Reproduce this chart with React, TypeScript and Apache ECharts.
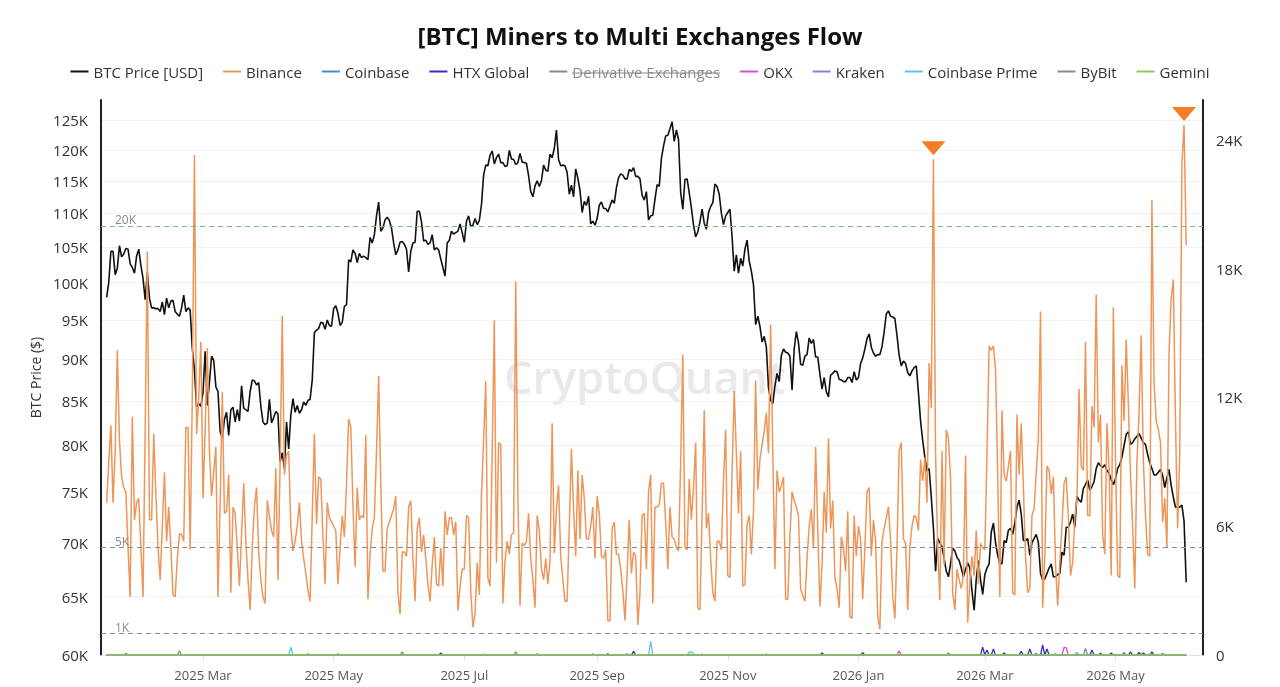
import { useEffect, useRef } from 'react';
import * as echarts from 'echarts';

// ---------- DATA ----------
// Daily series start on 2025-01-15 and end on 2026-06-03 (505 days)
const START_DATE = '2025-01-15';

// BTC price, thousands of USD
const btcPrice2025H1 = [
  98.0, 100.0, 104.4, 104.4, 101.1, 102.0, 105.2, 103.6, 104.0, 104.8, 104.7, 102.6, 102.1, 101.3, 103.7, 104.7, 102.4,
  100.6, 97.7, 101.4, 97.9, 96.6, 96.6, 96.5, 96.5, 96.1, 97.4, 95.7, 97.9, 96.6, 97.5, 97.6, 96.1, 95.8, 95.5, 96.6, 98.3, 96.1, 96.6, 96.3, 91.4, 88.7, 84.3, 84.7, 84.4,
  86.0, 91.0, 84.5, 87.2, 90.4, 89.9, 86.7, 86.1, 81.5, 80.8, 82.9, 83.7, 81.1, 84.0, 84.3, 82.6, 84.0, 82.7, 86.8, 84.2, 84.0, 83.8, 86.1, 87.5, 87.4, 86.9, 87.2, 84.4, 82.6, 82.3, 82.5,
  85.2, 82.5, 83.1, 83.8, 83.5, 78.2, 79.2, 77.5, 82.6, 79.6, 83.4, 85.3, 83.7, 84.5, 83.6, 84.0, 84.9, 84.5, 85.1, 85.2, 87.5, 93.4, 93.7, 93.9, 94.7, 94.6, 93.8, 95.0, 94.3, 94.2,
  96.5, 96.9, 95.9, 94.3, 94.7, 96.8, 97.0, 103.2, 102.9, 104.6, 104.1, 102.8, 104.1, 103.5, 103.7, 103.5, 103.2, 106.4, 105.6, 106.8, 109.6, 111.7, 107.3, 107.8, 109.0, 109.4, 108.9, 107.8, 105.6, 103.9, 104.6,
  105.7, 105.8, 105.4, 104.7, 101.5, 104.4, 105.6, 105.7, 110.3, 110.3, 108.7, 105.9, 106.0, 105.4, 105.6, 106.8, 104.6, 104.9, 104.6, 103.3, 102.1, 100.9, 105.6, 106.0, 107.3, 106.9, 107.1, 107.3, 108.4, 107.1,
];
const btcPrice2025H2 = [
  105.7, 108.8, 109.6, 108.0, 108.2, 109.2, 108.3, 108.9, 111.3, 115.9, 117.5, 117.4, 119.1, 119.8, 117.7, 118.7, 119.3, 117.9, 117.9, 117.3, 117.4, 119.9, 118.5, 118.4, 117.6, 117.9, 119.4, 118.0, 117.9, 117.8, 115.8,
  113.3, 112.5, 114.2, 115.0, 114.1, 115.0, 117.5, 116.7, 116.5, 119.3, 118.7, 120.2, 123.3, 118.4, 117.4, 117.5, 117.4, 116.3, 112.9, 114.3, 112.5, 116.9, 115.4, 113.5, 110.1, 111.8, 111.2, 112.6, 108.4, 108.8, 108.2,
  109.2, 111.2, 111.7, 110.7, 110.7, 110.2, 111.1, 112.0, 111.5, 113.9, 115.5, 116.1, 115.9, 115.3, 115.3, 116.8, 116.5, 117.1, 115.7, 115.7, 115.3, 112.7, 112.0, 113.3, 109.0, 109.6, 109.7, 112.1, 114.4, 114.1,
  118.6, 120.6, 122.3, 122.4, 123.5, 124.7, 121.4, 123.3, 121.7, 113.2, 110.6, 115.2, 115.3, 113.1, 110.8, 108.2, 106.5, 107.2, 108.7, 110.6, 108.5, 107.6, 110.1, 111.0, 111.6, 114.5, 114.1, 112.9, 110.0, 108.3, 109.6,
  110.1, 110.6, 106.5, 101.6, 103.9, 101.3, 103.4, 102.3, 104.7, 106.0, 103.0, 101.6, 99.7, 94.4, 95.5, 94.2, 92.2, 92.9, 91.5, 86.6, 85.1, 84.7, 86.8, 88.3, 87.3, 90.5, 91.3, 90.9, 90.8, 90.4,
  86.3, 91.3, 93.5, 92.1, 89.4, 89.3, 90.4, 90.6, 92.7, 92.0, 92.5, 90.3, 90.3, 88.2, 86.4, 87.8, 86.1, 85.5, 88.1, 88.3, 88.6, 88.5, 87.6, 87.5, 87.3, 87.3, 87.8, 87.8, 87.2, 88.5, 87.5,
];
const btcPrice2026 = [
  87.8, 89.5, 90.2, 91.3, 92.6, 93.2, 91.5, 90.8, 90.4, 90.6, 90.6, 91.6, 93.5, 95.8, 96.2, 95.5, 95.4, 95.2, 93.0, 90.5, 89.2, 89.8, 89.5, 88.4, 88.0, 88.6, 89.0, 89.2, 86.0, 82.7, 80.5,
  78.7, 77.2, 77.5, 74.5, 71.4, 67.3, 70.4, 70.0, 69.6, 68.5, 67.3, 66.8, 68.0, 69.5, 69.2, 68.6, 68.3, 67.6, 66.8, 67.5, 68.1, 67.6, 65.5, 63.8, 66.6, 68.3, 66.5, 65.2,
  67.0, 67.6, 68.0, 71.0, 71.9, 70.0, 68.8, 68.0, 68.0, 70.2, 70.0, 71.2, 71.4, 70.8, 71.9, 73.5, 74.2, 72.8, 70.2, 70.2, 70.4, 68.8, 70.0, 70.4, 70.8, 70.0, 67.1, 66.5, 66.6, 67.1, 67.6,
  68.0, 66.8, 66.8, 67.0, 67.1, 69.1, 68.8, 71.5, 71.5, 72.0, 72.8, 71.5, 74.6, 74.2, 74.0, 75.4, 75.8, 76.3, 75.2, 75.6, 76.1, 77.5, 78.1, 77.8, 77.6, 77.9, 77.3, 77.0, 76.3, 75.8,
  76.4, 77.5, 77.9, 78.7, 80.0, 81.2, 81.5, 80.1, 80.3, 80.7, 81.0, 81.3, 80.8, 80.3, 80.1, 79.0, 78.1, 77.5, 76.8, 76.8, 77.1, 77.4, 76.8, 75.5, 76.5, 77.4, 75.7, 74.5, 73.5, 73.5, 73.5,
  73.7, 72.1, 66.3,
];

// Miners -> Binance flow, thousands of BTC
const binance2025H1 = [
  7.1, 9.0, 10.7, 7.1, 9.5, 14.2, 10.0, 8.3, 7.8, 7.6,
  5.0, 2.7, 11.1, 6.3, 7.1, 7.3, 5.0, 2.7, 10.5, 18.8,
  6.3, 6.3, 10.3, 7.5, 5.0, 3.5, 6.0, 8.5, 5.3, 6.9,
  5.0, 2.8, 2.7, 4.5, 5.65, 5.6, 5.3, 10.6, 10.6, 4.9,
  12.0, 23.3, 10.3, 12.0, 14.6, 7.3, 10.5, 14.3, 9.5, 7.4,
  8.5, 9.7, 2.7, 7.0, 12.25, 6.6, 6.7, 8.4, 2.9, 6.9,
  6.6, 5.0, 3.2, 5.6, 8.0, 5.3, 3.5, 2.1, 5.0, 6.9,
  7.8, 4.8, 3.5, 2.7, 2.4, 7.2, 6.5, 5.8, 5.5, 8.7,
  3.5, 9.0, 15.8, 8.4, 9.3, 9.5, 6.0, 4.85, 5.3, 6.0,
  7.1, 5.3, 4.5, 3.8, 3.0, 2.5, 6.5, 10.3, 6.1, 8.3,
  8.2, 5.5, 3.3, 7.1, 6.4, 6.2, 6.0, 5.8, 3.3, 5.0,
  6.5, 5.5, 8.0, 11.0, 10.6, 7.0, 4.1, 7.8, 6.3, 6.5,
  6.4, 10.25, 2.6, 4.7, 5.9, 6.4, 9.5, 13.0, 8.0, 3.9,
  3.9, 5.9, 6.2, 6.5, 6.8, 7.4, 2.9, 1.9, 4.8, 4.8,
  4.6, 6.9, 7.2, 4.5, 2.5, 5.9, 6.4, 4.8, 5.6, 4.5,
  3.3, 2.5, 4.2, 5.5, 3.3, 3.2, 5.0, 3.2, 6.7, 5.6,
  6.4, 6.4, 5.6, 6.2, 2.07, 3.2, 4.0,
];
const binance2025H2 = [
  4.0, 6.5, 6.4,
  3.0, 1.3, 1.9, 4.3, 2.8, 7.4, 10.0, 12.75, 3.6, 3.2,
  9.4, 15.6, 4.3, 9.9, 9.8, 2.4, 4.4, 5.3, 4.7, 5.6,
  5.7, 17.4, 7.5, 2.3, 5.2, 5.1, 5.3, 6.6, 4.5, 3.5,
  2.2, 6.5, 5.8, 4.0, 3.5, 4.5, 3.3, 4.4, 10.8, 4.75,
  6.8, 7.9, 4.6, 3.5, 2.5, 2.5, 6.0, 9.6, 6.8, 4.6,
  8.6, 5.4, 8.4, 7.3, 5.4, 5.4, 6.0, 6.9, 4.5, 7.4,
  6.6, 4.6, 4.5, 4.9, 1.6, 1.6, 5.9, 6.2, 4.7, 4.7,
  4.0, 3.0, 1.6, 3.8, 6.3, 3.8, 4.8, 4.6, 1.4, 2.9,
  6.5, 6.6, 4.0, 7.6, 8.4, 2.4, 6.9, 6.9, 7.0, 8.0,
  8.0, 6.2, 4.0, 6.9, 5.5, 5.4, 5.0, 4.85, 9.0, 14.0,
  5.0, 4.9, 8.2, 6.3, 7.8, 9.9, 2.2, 2.1, 6.5, 11.4,
  5.9, 6.6, 4.5, 2.9, 2.5, 5.3, 5.3, 4.9, 8.2, 10.5,
  3.7, 3.6, 8.6, 12.3, 9.4, 6.6, 9.5, 3.2, 3.3, 6.1,
  6.5, 4.7, 6.7, 12.8, 7.7, 9.1, 9.8, 10.4, 11.3, 9.4,
  15.4, 9.4, 4.0, 8.6, 7.6, 7.9, 8.3, 2.6, 2.6, 5.5,
  7.6, 7.2, 6.9, 6.5, 3.1, 2.75, 2.5, 4.5, 6.0, 6.8,
  5.0, 9.7, 5.9, 2.25, 4.2, 7.6, 5.7, 10.1, 5.9, 7.2,
  3.6, 3.1, 2.2, 5.5, 5.0, 3.9, 6.7, 1.8, 1.7, 6.5,
  4.6,
];
const binance2026 = [
  6.0, 5.4, 2.6, 5.0, 7.6, 7.8, 4.6, 6.3, 5.3, 1.8,
  1.2, 5.3, 5.9, 6.4, 6.9, 5.3, 2.75, 1.7, 5.0, 9.5,
  9.9, 5.4, 5.2, 2.1, 5.0, 6.0, 6.5, 6.4, 5.8, 9.1,
  8.1, 9.2, 7.1, 13.6, 11.5, 23.1, 9.4, 5.0, 2.55, 9.5,
  4.2, 10.5, 10.1, 8.2, 2.9, 2.1, 4.0, 3.5, 3.1, 3.7,
  9.3, 1.5, 3.4, 4.6, 3.7, 5.8, 3.3, 5.2, 5.0, 4.9,
  9.4, 14.4, 14.2, 14.4, 13.3, 8.4, 2.7, 11.4, 8.4, 8.1,
  8.8, 9.5, 2.9, 2.8, 11.2, 8.4, 10.8, 7.8, 4.6, 2.9,
  3.1, 6.5, 6.8, 8.5, 10.1, 16.0, 2.2, 4.6, 8.8, 8.6,
  7.5, 8.3, 4.2, 2.3, 4.3, 6.0, 8.0, 8.3, 6.4, 3.7,
  4.3, 6.4, 7.3, 12.4, 8.8, 8.6, 14.6, 6.5, 6.5, 11.6,
  10.6, 16.8, 9.9, 11.2, 5.6, 4.7, 10.8, 8.7, 3.7, 16.2,
  9.1, 3.7, 3.6, 13.5, 10.9, 14.7, 11.7, 8.4, 6.0, 3.1,
  9.0, 11.3, 14.9, 9.1, 6.5, 4.7, 4.6, 21.2, 12.7, 10.9,
  10.5, 9.9, 6.2, 7.3, 5.0, 14.1, 16.6, 17.5, 10.9, 5.9,
  9.4, 22.9, 24.7, 19.1,
];

// Small exchanges: days with a visible flow [date, BTC]; every other day is 0
const coinbaseFlows: [string, number][] = [['2025-07-10', 40], ['2026-04-03', 60]];
const htxFlows: [string, number][] = [
  ['2025-06-20', 90], ['2025-09-06', 50], ['2025-09-18', 170], ['2025-12-15', 90], ['2026-01-03', 110],
  ['2026-02-28', 360], ['2026-03-02', 230], ['2026-03-05', 280], ['2026-03-10', 90], ['2026-03-18', 170],
  ['2026-03-22', 280], ['2026-03-28', 470], ['2026-03-30', 280], ['2026-04-20', 230], ['2026-04-24', 80],
  ['2026-04-29', 90], ['2026-05-08', 150], ['2026-05-12', 120], ['2026-05-14', 90], ['2026-05-18', 150], ['2026-05-23', 60],
];
const derivativeFlows: [string, number][] = [];
const okxFlows: [string, number][] = [['2026-01-20', 200], ['2026-04-07', 360], ['2026-04-08', 340]];
const krakenFlows: [string, number][] = [['2025-10-20', 40], ['2026-03-25', 80]];
const coinbasePrimeFlows: [string, number][] = [
  ['2025-04-11', 360], ['2025-09-26', 640], ['2025-10-14', 130], ['2025-10-15', 150], ['2025-10-16', 60],
  ['2025-11-19', 50], ['2026-04-13', 120],
];
const bybitFlows: [string, number][] = [
  ['2025-01-24', 80], ['2025-02-18', 200], ['2025-04-19', 50], ['2025-05-03', 50], ['2025-06-02', 150],
  ['2025-07-25', 150], ['2025-08-04', 60], ['2025-08-30', 60], ['2025-09-15', 60], ['2026-02-12', 100],
  ['2026-04-17', 310], ['2026-05-05', 120],
];
const geminiFlows: [string, number][] = [];

// Alerts (orange triangles) on Binance flow
const alertDates = ['2026-02-05', '2026-06-02'];

// Axis ticks
const priceTicks = [60000, 65000, 70000, 75000, 80000, 85000, 90000, 95000, 100000, 105000, 110000, 115000, 120000, 125000];
const flowTicks = [0, 6000, 12000, 18000, 24000];
const flowThresholds = [20000, 5000, 1000];
const monthTicks = ['2025-03-01', '2025-05-01', '2025-07-01', '2025-09-01', '2025-11-01', '2026-01-01', '2026-03-01', '2026-05-01'];
const MONTHS = ['Jan', 'Feb', 'Mar', 'Apr', 'May', 'Jun', 'Jul', 'Aug', 'Sep', 'Oct', 'Nov', 'Dec'];

// ---------- HELPERS ----------
const DAY = 86400000;
const ts = (s: string) => {
  const [y, m, d] = s.split('-').map(Number);
  return Date.UTC(y, m - 1, d);
};
const startTs = ts(START_DATE);
const priceK = [...btcPrice2025H1, ...btcPrice2025H2, ...btcPrice2026];
const binanceK = [...binance2025H1, ...binance2025H2, ...binance2026];
const N = priceK.length;
const dayTs = (i: number) => startTs + i * DAY;

const priceData = priceK.map((v, i) => [dayTs(i), Math.log(v * 1000)]);
const binanceData = binanceK.map((v, i) => [dayTs(i), v * 1000]);
const sparse = (events: [string, number][]) => {
  const m = new Map<number, number>();
  events.forEach(([d, v]) => m.set(ts(d), v));
  const out: number[][] = [];
  for (let i = 0; i < N; i++) out.push([dayTs(i), m.get(dayTs(i)) ?? 0]);
  return out;
};

const FONT = '"Open Sans", "Noto Sans", sans-serif';

export default function App() {
  const ref = useRef<HTMLDivElement>(null);
  useEffect(() => {
    if (!ref.current) return;
    const chart = echarts.init(ref.current, undefined, { renderer: 'svg' });
    const xMin = ts('2025-03-01') - 47.62 * DAY;
    const xMax = xMin + 514.47 * DAY;
    const monthTs = monthTicks.map(ts);
    const logTicks = priceTicks.map((v) => Math.log(v));
    const smallLine = (name: string, color: string, events: [string, number][]) => ({
      name,
      type: 'line',
      yAxisIndex: 1,
      data: sparse(events),
      symbol: 'none',
      lineStyle: { color, width: 1.3 },
      itemStyle: { color },
      z: 3,
    });
    chart.setOption({
      animation: false,
      textStyle: { fontFamily: FONT },
      title: {
        text: '[BTC] Miners to Multi Exchanges Flow',
        left: 'center',
        top: 18,
        textStyle: { fontSize: 24, fontWeight: 'bold', color: '#111', fontFamily: FONT },
      },
      legend: {
        top: 59,
        left: 'center',
        icon: 'rect',
        itemWidth: 18,
        itemHeight: 2,
        itemGap: 20,
        textStyle: { fontSize: 15, color: '#333', fontFamily: FONT },
        inactiveColor: '#8a8a8a',
        selected: { 'Derivative Exchanges': false },
        data: ['BTC Price [USD]', 'Binance', 'Coinbase', 'HTX Global', 'Derivative Exchanges', 'OKX', 'Kraken', 'Coinbase Prime', 'ByBit', 'Gemini'],
      },
      graphic: [
        {
          type: 'text',
          x: 645,
          y: 376,
          z: 0,
          silent: true,
          style: {
            text: 'CryptoQuant',
            fontSize: 45,
            fontWeight: 600,
            fontFamily: FONT,
            fill: 'rgba(185,185,200,0.32)',
            textAlign: 'center',
            textVerticalAlign: 'middle',
          },
        },
        {
          type: 'line',
          silent: true,
          z: 10,
          shape: { x1: 572, y1: 73, x2: 720, y2: 73 },
          style: { stroke: '#8a8a8a', lineWidth: 1 },
        },
      ],
      grid: { left: 101, right: 77, top: 100, bottom: 32, outerBoundsMode: 'none' },
      xAxis: {
        type: 'value',
        min: xMin,
        max: xMax,
        axisLine: { show: true, lineStyle: { color: '#e3e3e3' } },
        axisTick: { show: true, customValues: monthTs, length: 6, lineStyle: { color: '#e0e0e0' } },
        axisLabel: {
          customValues: monthTs,
          fontSize: 13,
          color: '#555',
          margin: 13,
          formatter: (v: number) => {
            const d = new Date(v);
            return `${d.getUTCFullYear()} ${MONTHS[d.getUTCMonth()]}`;
          },
        },
        splitLine: { show: false },
      },
      yAxis: [
        {
          type: 'value',
          position: 'left',
          min: Math.log(60000),
          max: Math.log(128480),
          name: 'BTC Price ($)',
          nameLocation: 'middle',
          nameGap: 58,
          nameTextStyle: { fontSize: 14, color: '#333' },
          axisLine: { show: true, lineStyle: { color: '#222', width: 2 } },
          axisTick: { show: false, customValues: logTicks },
          axisLabel: {
            customValues: logTicks,
            fontSize: 15,
            color: '#333',
            margin: 13,
            formatter: (v: number) => `${Math.round(Math.exp(v) / 1000)}K`,
          },
          splitLine: { show: true, lineStyle: { color: '#f1f1f1', width: 1 } },
        },
        {
          type: 'value',
          position: 'right',
          min: 0,
          max: 25860,
          axisLine: { show: true, lineStyle: { color: '#222', width: 2 } },
          axisTick: { show: false, customValues: flowTicks },
          axisLabel: {
            customValues: flowTicks,
            fontSize: 15,
            color: '#333',
            margin: 13,
            formatter: (v: number) => (v === 0 ? '0' : `${Math.round(v / 1000)}K`),
          },
          splitLine: { show: false },
        },
      ],
      series: [
        {
          name: 'BTC Price [USD]',
          type: 'line',
          yAxisIndex: 0,
          data: priceData,
          symbol: 'none',
          lineStyle: { color: '#111', width: 1.6 },
          itemStyle: { color: '#111' },
          z: 2,
        },
        {
          name: 'Binance',
          type: 'line',
          yAxisIndex: 1,
          data: binanceData,
          symbol: 'none',
          lineStyle: { color: '#EE965A', width: 1.5 },
          itemStyle: { color: '#EE965A' },
          z: 3,
          markLine: {
            silent: true,
            symbol: 'none',
            data: flowThresholds.map((v) => ({
              yAxis: v,
              lineStyle: { color: v === 20000 ? '#74bf6e' : '#8c8c8c', type: [5, 4], width: 1 },
              label: {
                show: true,
                position: 'insideStartTop',
                formatter: `${v / 1000}K`,
                color: '#8a8a8a',
                fontSize: 12,
                distance: [14, 0],
              },
            })),
          },
          markPoint: {
            symbol: 'triangle',
            symbolRotate: 180,
            symbolSize: [24, 14],
            symbolOffset: [0, -11],
            itemStyle: { color: '#F47E22' },
            label: { show: false },
            data: alertDates.map((d) => {
              const i = Math.round((ts(d) - startTs) / DAY);
              return { coord: [ts(d), binanceK[i] * 1000] };
            }),
          },
        },
        smallLine('Coinbase', '#4a86d8', coinbaseFlows),
        smallLine('HTX Global', '#3a2fbf', htxFlows),
        smallLine('Derivative Exchanges', '#8f8f8f', derivativeFlows),
        smallLine('OKX', '#d252d0', okxFlows),
        smallLine('Kraken', '#8d7be0', krakenFlows),
        smallLine('Coinbase Prime', '#5cc6e8', coinbasePrimeFlows),
        smallLine('ByBit', '#8a8a8a', bybitFlows),
        smallLine('Gemini', '#8fc85a', geminiFlows),
      ],
    });
    return () => chart.dispose();
  }, []);
  return <div ref={ref} style={{ position: 'fixed', left: 0, top: 0, width: 1280, height: 687 }} />;
}
